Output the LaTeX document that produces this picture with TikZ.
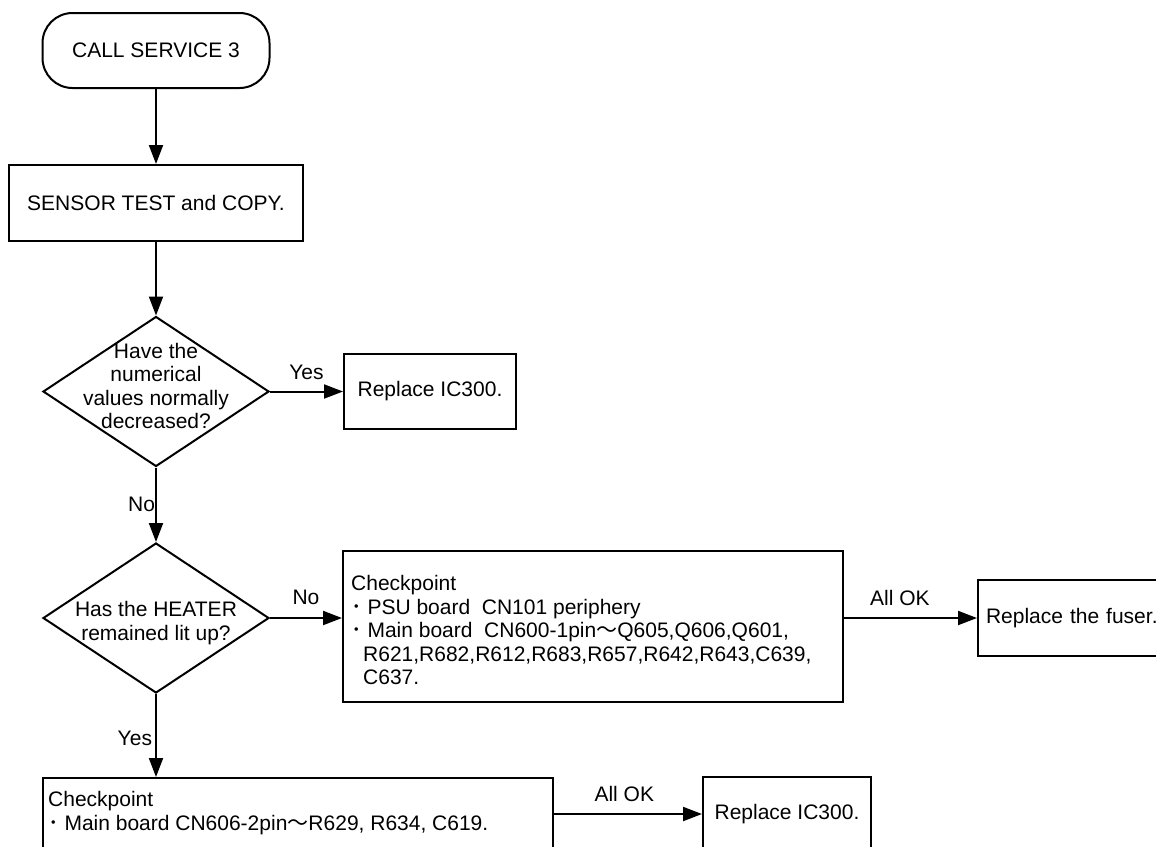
\documentclass[tikz,border=0pt]{standalone}
\usepackage{fontspec}
\setmainfont{Liberation Sans}
\newfontfamily\cjk{Noto Sans CJK JP}
\newcommand{\cjkdot}{{\cjk ･}}
\newcommand{\cjktilde}{{\cjk ～}}
\usetikzlibrary{arrows.meta,shapes.geometric}
\tikzset{
  basefont/.style={font=\fontsize{21}{23.5}\selectfont},
  shapebase/.style={draw, line width=2pt, inner sep=0pt, basefont},
  term/.style={shapebase, rectangle, rounded corners=30pt, minimum width=227pt, minimum height=75pt},
  stepbox/.style={shapebase, rectangle},
  decision/.style={shapebase, diamond, minimum width=226pt, minimum height=150pt},
  txt/.style={inner sep=0pt, basefont},
  lbl/.style={inner sep=0pt, basefont},
  arr/.style={line width=2pt, -{Triangle[length=19pt,width=14pt]}},
}
\begin{document}
\begin{tikzpicture}[x=1pt,y=-1pt]
\useasboundingbox (0,0) rectangle (1156,846);
% nodes
\node[term] (start) at (156,50.5) {CALL SERVICE 3};
\node[stepbox, minimum width=294pt, minimum height=76pt] (sensor) at (156,203) {SENSOR TEST and COPY.};
\node[decision] (d1) at (156,391.5) {};
\node[txt, align=center] (d1t) at (156,386) {Have the\\numerical\\values normally\\decreased?};
\node[stepbox, minimum width=172pt, minimum height=75pt] (rep1) at (430,391.5) {Replace IC300.};
\node[decision] (d2) at (156,618) {};
\node[txt, align=center] (d2t) at (156,623) {Has the HEATER\\remained lit up?};
\node[stepbox, minimum width=500pt, minimum height=151pt] (cp1) at (593,626.5) {};
\node[txt, align=left, anchor=north west] (cp1t) at (351,575.5) {Checkpoint\\\cjkdot{} PSU board\ \ CN101 periphery\\\cjkdot{} Main board\ \ CN600-1pin\cjktilde{}Q605,Q606,Q601,\\\hspace*{12pt}R621,R682,R612,R683,R657,R642,R643,C639,\\\hspace*{12pt}C637.};
\node[stepbox, anchor=west, minimum height=76pt, text width=184pt, align=left, inner xsep=8pt] (fuser) at (977,618) {Replace the fuser.};
\node[stepbox, anchor=north west, minimum width=510pt, minimum height=100pt] (cp2) at (42,777) {};
\node[txt, align=left, anchor=north west] (cp2t) at (48,791.5) {Checkpoint\\\cjkdot{} Main board CN606-2pin\cjktilde{}R629, R634, C619.};
\node[stepbox, minimum width=168pt, minimum height=74pt] (rep2) at (787,814) {Replace IC300.};
% connectors
\draw[arr] (start.south) -- (sensor.north);
\draw[arr] (sensor.south) -- (d1.north);
\draw[arr] (d1.east) -- node[lbl, above=11pt] {Yes} (rep1.west);
\draw[arr] (d1.south) -- node[lbl, left=0pt] {No} (d2.north);
\draw[arr] (d2.east) -- node[lbl, above=12pt] {No} (d2.east -| cp1.west);
\draw[arr] (cp1.east |- fuser.west) -- node[lbl, above=11.5pt, pos=0.42] {All OK} (fuser.west);
\draw[arr] (d2.south) -- node[lbl, left=3pt, pos=0.53] {Yes} (d2.south |- cp2.north);
\draw[arr] (cp2.east |- rep2.west) -- node[lbl, above=11.5pt, pos=0.475] {All OK} (rep2.west);
\end{tikzpicture}
\end{document}
